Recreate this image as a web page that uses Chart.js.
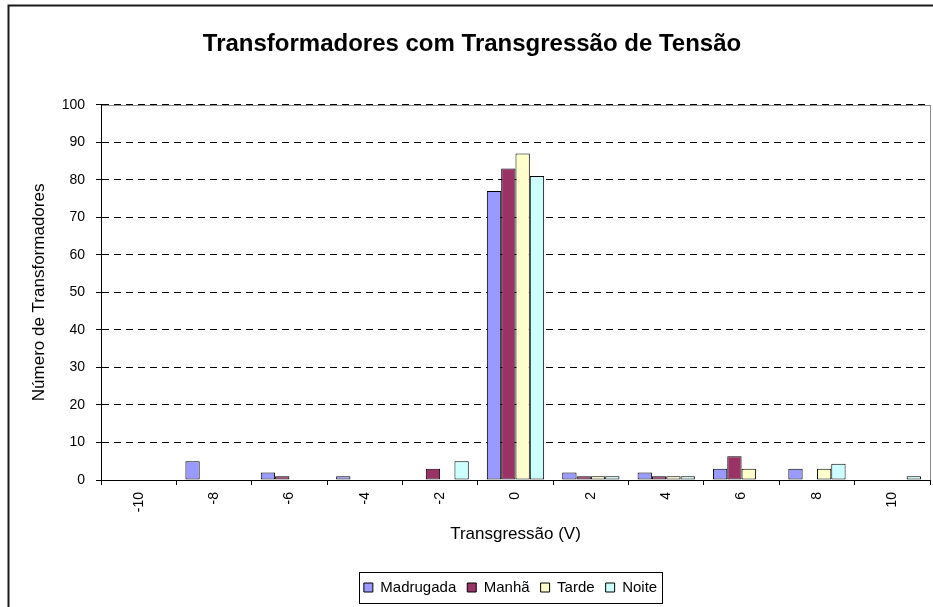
<!DOCTYPE html>
<html>
<head>
<meta charset="utf-8">
<script src="https://cdn.jsdelivr.net/npm/chart.js"></script>
<style>
  body { margin: 0; background: #fff; }
</style>
</head>
<body>
<canvas id="chart" width="933" height="607"></canvas>
<script>
// Transgressão de tensão (V) por período do dia
var categorias = ['-10', '-8', '-6', '-4', '-2', '0', '2', '4', '6', '8', '10'];
var madrugada = [0, 5, 2, 1, 0, 77, 2, 2, 3, 3, 0];
var manha     = [0, 0, 1, 0, 3, 83, 1, 1, 6.3, 0, 0];
var tarde     = [0, 0, 0, 0, 0, 87, 1, 1, 3, 3, 0];
var noite     = [0, 0, 0, 0, 5, 81, 1, 1, 0, 4.3, 1];
var yMin = 0, yMax = 100, yPasso = 10;

var FONTE = "'Liberation Sans', Arial, sans-serif";

// moldura do gráfico, borda da área de plotagem e caixa da legenda
var moldura = {
  id: 'moldura',
  afterLayout: function(chart) {
    var a = chart.chartArea;
    var lg = chart.legend;
    var d = (a.left + a.right) / 2 - (lg.left + lg.right) / 2 - 5;
    lg.left += d; lg.right += d;
    var t = chart.titleBlock;
    t.left += 7; t.right += 7;
  },
  beforeDraw: function(chart) {
    var ctx = chart.ctx, a = chart.chartArea;
    ctx.save();
    ctx.fillStyle = '#fff';
    ctx.fillRect(0, 0, chart.width, chart.height);
    ctx.strokeStyle = '#1a1a1a';
    ctx.lineWidth = 2;
    ctx.strokeRect(8.5, 5.5, chart.width + 40, chart.height + 40);
    ctx.strokeStyle = '#8c8c8c';
    ctx.lineWidth = 1;
    ctx.strokeRect(Math.round(a.left) + 0.5, Math.round(a.top) + 0.5,
      Math.round(a.right - a.left), Math.round(a.bottom - a.top));
    ctx.restore();
  },
  afterDraw: function(chart) {
    var hb = chart.legend.legendHitBoxes;
    if (!hb || !hb.length) return;
    var l = Infinity, r = -Infinity, t = Infinity, b = -Infinity;
    hb.forEach(function(h) {
      l = Math.min(l, h.left); r = Math.max(r, h.left + h.width);
      t = Math.min(t, h.top); b = Math.max(b, h.top + h.height);
    });
    var ctx = chart.ctx;
    ctx.save();
    ctx.strokeStyle = '#000';
    ctx.lineWidth = 1;
    ctx.strokeRect(Math.round(l - 5) + 0.5, Math.round(t - 8) + 0.5,
      Math.round(r - l + 10), Math.round(b - t + 16));
    ctx.restore();
  }
};

function serie(nome, valores, cor) {
  return {
    label: nome,
    data: valores,
    backgroundColor: cor,
    borderColor: '#000',
    borderWidth: 1,
    borderSkipped: false,
    categoryPercentage: 0.76,
    barPercentage: 1
  };
}

new Chart(document.getElementById('chart').getContext('2d'), {
  type: 'bar',
  data: {
    labels: categorias,
    datasets: [
      serie('Madrugada', madrugada, '#9999FF'),
      serie('Manhã', manha, '#993366'),
      serie('Tarde', tarde, '#FFFFCC'),
      serie('Noite', noite, '#CCFFFF')
    ]
  },
  options: {
    responsive: false,
    animation: false,
    devicePixelRatio: 1,
    layout: { padding: { top: 0, right: 3, bottom: 2, left: 0 } },
    plugins: {
      title: {
        display: true,
        text: 'Transformadores com Transgressão de Tensão',
        color: '#000',
        font: { family: FONTE, size: 24, weight: 'bold' },
        padding: { top: 30, bottom: 46 }
      },
      legend: {
        position: 'bottom',
        labels: {
          color: '#000',
          font: { family: FONTE, size: 15 },
          boxWidth: 9,
          boxHeight: 9,
          padding: 11
        }
      },
      tooltip: { enabled: false }
    },
    scales: {
      x: {
        offset: true,
        afterFit: function(s) { s.height = 89; },
        grid: {
          drawOnChartArea: false,
          color: '#000',
          tickLength: 5
        },
        border: { color: '#000', width: 1 },
        ticks: {
          color: '#000',
          font: { family: FONTE, size: 14 },
          minRotation: 90,
          maxRotation: 90,
          autoSkip: false,
          padding: 7
        },
        title: {
          display: true,
          text: 'Transgressão (V)',
          color: '#000',
          font: { family: FONTE, size: 17 },
          padding: { top: 0, bottom: 24 }
        }
      },
      y: {
        min: yMin,
        max: yMax,
        afterFit: function(s) { s.width = 101; },
        grid: {
          color: '#000',
          tickLength: 5,
          tickColor: '#000',
          tickBorderDash: []
        },
        // border.dash tracejam as linhas de grade; o eixo fica contínuo
        border: { color: '#000', width: 1, dash: [7, 5] },
        ticks: {
          stepSize: yPasso,
          color: '#000',
          font: { family: FONTE, size: 14 },
          padding: 11
        },
        title: {
          display: true,
          text: 'Número de Transformadores',
          color: '#000',
          font: { family: FONTE, size: 17 },
          padding: { top: 29, bottom: 0 }
        }
      }
    }
  },
  plugins: [moldura]
});
</script>
</body>
</html>
